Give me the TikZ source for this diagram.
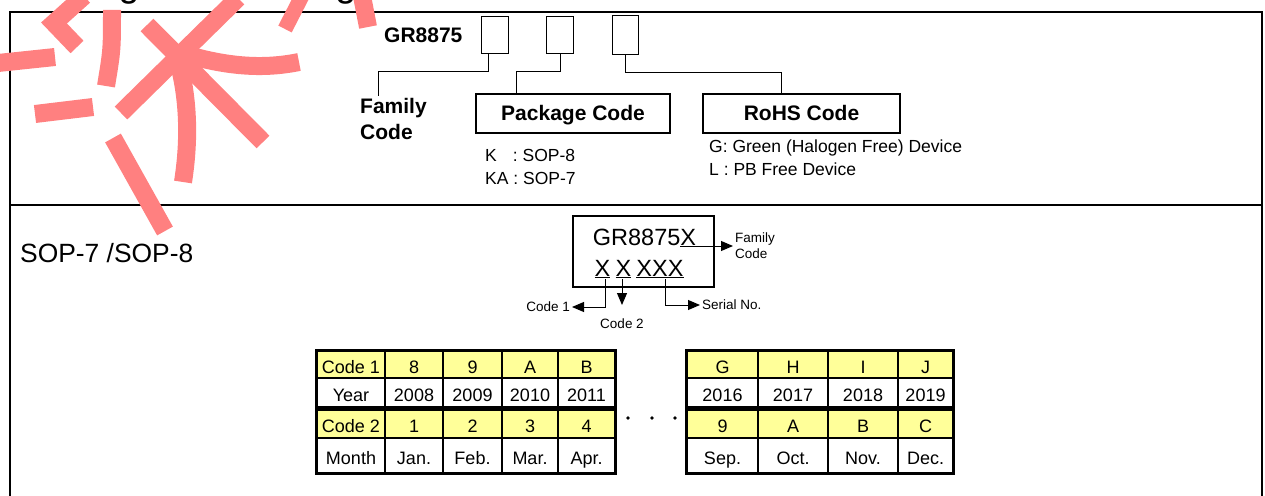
\documentclass[tikz,border=0pt]{standalone}
\usepackage{fontspec}
\setmainfont{Liberation Sans}
\usetikzlibrary{arrows.meta,calc}
\definecolor{yel}{RGB}{255,255,153}
\definecolor{wm}{RGB}{255,128,128}
\begin{document}
\begin{tikzpicture}[x=1pt,y=-1pt,
  frame/.style={line width=1.8pt},
  lbl/.style={inner sep=0pt, font=\fontsize{21}{26}\selectfont\bfseries},
  slot/.style={draw, line width=1pt, minimum width=27pt, minimum height=37pt, inner sep=0pt},
  codebox/.style={draw, line width=1.2pt, minimum height=39pt, inner sep=0pt, text height=17pt, text depth=4pt, font=\fontsize{21}{25}\selectfont\bfseries},
  conn/.style={line width=1pt},
  note/.style={inner sep=0pt, anchor=base west, font=\fontsize{17.5}{21}\selectfont},
  marktxt/.style={inner sep=1pt, anchor=base, font=\fontsize{23.5}{27}\selectfont},
  small/.style={inner sep=2pt, font=\fontsize{13.5}{16}\selectfont},
  arr/.style={line width=1pt, -{Triangle[length=12pt,width=10pt]}},
  cell/.style={draw, line width=1.4pt, inner sep=0pt, text height=21pt, text depth=4pt, font=\fontsize{18}{21}\selectfont},
  outerb/.style={line width=2.6pt},
  wmstroke/.style={wm, line width=18pt}
]
\fill[white] (0,0) rectangle (1265,495);
\useasboundingbox (0,0) rectangle (1265,495);

% title (mostly cut off at the top edge, as in the reference)
\node[inner sep=0pt, anchor=base west, font=\fontsize{37.5}{40}\selectfont] (title) at (-6.5,-3) {Ordering and Marking Information};

% frame
\draw[frame] (10,500) -- (10,12) -- (1262,12) -- (1262,500);
\draw[frame] (10,205) -- (1262,205);

% ---- ordering part
\node[lbl, anchor=base west] (gr8875) at (384,43) {GR8875};
\node[slot] (b1) at (494.5,35.5) {};
\node[slot] (b2) at (560,35.5) {};
\node[slot, minimum width=26pt, minimum height=39pt] (b3) at (625,35) {};

\node[lbl, anchor=north west, align=left] (fam) at (360,98) {Family\\Code};
\node[codebox, minimum width=194pt] (pkg) at (573,113.5) {Package Code};
\node[codebox, minimum width=197pt] (rohs) at (801.5,113.5) {RoHS Code};

\draw[conn] ([xshift=-6.5pt]b1.south) -- ++(0,17) -| ([xshift=18pt,yshift=2pt]fam.north west);
\draw[conn] (b2.south) -- ++(0,17) -| ([xshift=-57pt]pkg.north);
\draw[conn] (b3.south) -- ++(0,17) -| ([xshift=-20.5pt]rohs.north);

\node[note] (k1) at (485,161) {K\hspace{16pt}: SOP-8};
\node[note] (k2) at (485,184) {KA : SOP-7};
\node[note] (g1) at (709,152) {G: Green (Halogen Free) Device};
\node[note] (l1) at (709,175) {L : PB Free Device};

% ---- marking part
\node[inner sep=0pt, anchor=base west, font=\fontsize{26.4}{30}\selectfont] (sop) at (20,262) {SOP-7 /SOP-8};

\node[draw, line width=1.2pt, minimum width=141pt, minimum height=71pt, inner sep=0pt] (mk) at (643.5,251.5) {};
\node[marktxt] (gr) at (644.5,245) {GR8875\underline{X}};
\node[marktxt] (x1) at (602.5,276) {\underline{X}};
\node[marktxt] (x2) at (623.5,276) {\underline{X}};
\node[marktxt] (x3) at (660,276) {\underline{XXX}};

\coordinate (grx) at (684,246);
\node[small, anchor=west, align=left] (fc) at (733,246) {Family\\Code};
\draw[arr] (grx) -- (fc.west);

\node[small, anchor=east] (c1) at (572,307) {Code 1};
\draw[arr] ([xshift=2.5pt]x1.south) |- (c1.east);
\node[small, anchor=north, inner ysep=14pt] (c2) at (622,305) {Code 2};
\draw[arr] ([xshift=-1.5pt]x2.south) -- (c2.north);
\node[small, anchor=west] (sn) at (700,305) {Serial No.};
\draw[arr] ([xshift=5pt]x3.south) |- (sn.west);

% ---- left table
\foreach \a/\b/\t [count=\i] in {317/385/Code 1,385/443/8,443/502/9,502/558/A,558/615/B}
  \node[cell, fill=yel, minimum width={\b-\a}, minimum height=27] (LA\i) at ({(\a+\b)/2},364.5) {\t};
\foreach \a/\b/\t [count=\i] in {317/385/Year,385/443/2008,443/502/2009,502/558/2010,558/615/2011}
  \node[cell, fill=white, minimum width={\b-\a}, minimum height=29] (LB\i) at ({(\a+\b)/2},392.5) {\t};
\foreach \a/\b/\t [count=\i] in {317/385/Code 2,385/443/1,443/502/2,502/558/3,558/615/4}
  \node[cell, fill=yel, minimum width={\b-\a}, minimum height=28] (LC\i) at ({(\a+\b)/2},424) {\t};
\foreach \a/\b/\t [count=\i] in {317/385/Month,385/443/Jan.,443/502/Feb.,502/558/Mar.,558/615/Apr.}
  \node[cell, fill=white, minimum width={\b-\a}, minimum height=35] (LD\i) at ({(\a+\b)/2},455.5) {\t};
\draw[outerb] (LA1.north west) rectangle (LB5.south east);
\draw[outerb] (LC1.north west) rectangle (LD5.south east);

% ---- right table
\foreach \a/\b/\t [count=\i] in {687/758/G,758/828/H,828/898/I,898/953/J}
  \node[cell, fill=yel, minimum width={\b-\a}, minimum height=27] (RA\i) at ({(\a+\b)/2},364.5) {\t};
\foreach \a/\b/\t [count=\i] in {687/758/2016,758/828/2017,828/898/2018,898/953/2019}
  \node[cell, fill=white, minimum width={\b-\a}, minimum height=29] (RB\i) at ({(\a+\b)/2},392.5) {\t};
\foreach \a/\b/\t [count=\i] in {687/758/9,758/828/A,828/898/B,898/953/C}
  \node[cell, fill=yel, minimum width={\b-\a}, minimum height=28] (RC\i) at ({(\a+\b)/2},424) {\t};
\foreach \a/\b/\t [count=\i] in {687/758/Sep.,758/828/Oct.,828/898/Nov.,898/953/Dec.}
  \node[cell, fill=white, minimum width={\b-\a}, minimum height=35] (RD\i) at ({(\a+\b)/2},455.5) {\t};
\draw[outerb] (RA1.north west) rectangle (RB4.south east);
\draw[outerb] (RC1.north west) rectangle (RD4.south east);

% dots
\fill (628,418) circle (1.8pt);
\fill (652,418) circle (1.8pt);
\fill (675,418) circle (1.8pt);

% ---- watermark strokes
\draw[wmstroke] (-2,63) -- (55,57);
\draw[wmstroke, line join=miter] (84,-4) -- (54,23) -- (77,47);
\draw[wmstroke] (112,10) .. controls (112,50) .. (106,86);
\draw[wmstroke] (35,114) -- (93,107);
\draw[wmstroke] (238,-2) -- (121,113);
\draw[wmstroke] (147,25) -- (263,142);
\draw[wmstroke] (188,55) .. controls (230,67) and (265,69) .. (299,62);
\draw[wmstroke] (180,68) .. controls (190,110) and (188,150) .. (183,182);
\draw[wmstroke] (113,138) -- (165,231);
\draw[wmstroke, line width=15pt] (302,-4) -- (285,29);
\draw[wmstroke, line width=18pt] (362,-4) -- (368,27);
\end{tikzpicture}
\end{document}
